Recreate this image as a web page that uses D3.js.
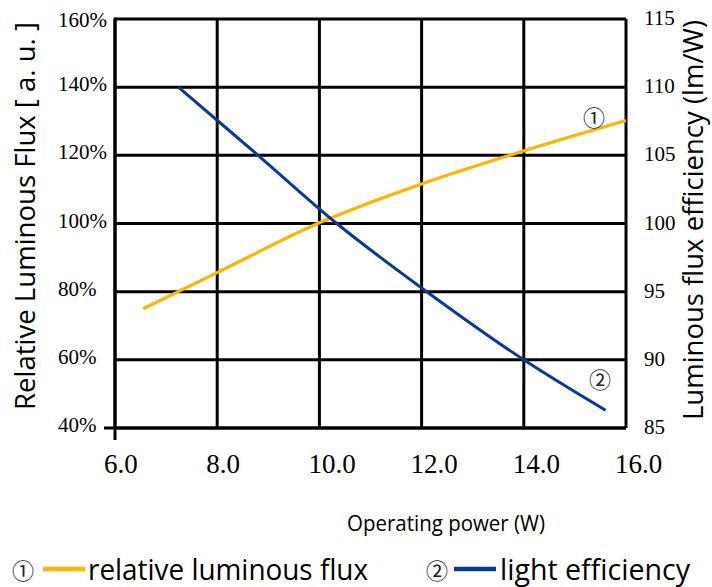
<!DOCTYPE html>
<html><head><meta charset="utf-8">
<script src="https://cdn.jsdelivr.net/npm/d3@7"></script>
<style>body{margin:0;background:#fff}svg{display:block}</style>
</head><body>
<svg id="c" width="712" height="587"></svg>
<script>
// ---- data ----
const xTicks = [6, 8, 10, 12, 14, 16];
const xTickLabels = ["6.0", "8.0", "10.0", "12.0", "14.0", "16.0"];
const leftTicks = [40, 60, 80, 100, 120, 140, 160];
const leftTickLabels = ["40%", "60%", "80%", "100%", "120%", "140%", "160%"];
const rightTicks = [85, 90, 95, 100, 105, 110, 115];
const rightTickLabels = ["85", "90", "95", "100", "105", "110", "115"];
// relative luminous flux (%) vs operating power (W)
const fluxPower = [6.55, 8, 10, 12, 14, 16];
const fluxValues = [75, 85.6, 100.2, 111.6, 121.3, 130.2];
// light efficiency (lm/W) vs operating power (W)
const effPower = [7.24, 8.8, 10.34, 12.1, 14, 15.6];
const effValues = [110, 105, 100, 95, 90, 86.3];
const seriesNames = ["relative luminous flux", "light efficiency"];
const seriesMarks = ["\u2460", "\u2461"];
const colors = ["#FFB400", "#0A3A94"];

// ---- chart ----
const SERIF = '"Liberation Serif"';
const SANS = '"Open Sans"';
const CJK = '"Noto Sans CJK JP"';
const svg = d3.select("#c");
const x = d3.scaleLinear().domain([6, 16]).range([115, 626]);
const yL = d3.scaleLinear().domain([40, 160]).range([428, 19]);
const yR = d3.scaleLinear().domain([85, 115]).range([428, 19]);

// grid
const g = svg.append("g").attr("stroke", "#000").attr("stroke-width", 3);
g.selectAll("line.h").data(leftTicks).join("line")
  .attr("x1", x(6)).attr("x2", x(16))
  .attr("y1", d => yL(d)).attr("y2", d => yL(d));
g.selectAll("line.v").data(xTicks).join("line")
  .attr("x1", d => x(d)).attr("x2", d => x(d))
  .attr("y1", yL(160)).attr("y2", yL(40));
// axes extended
g.append("line").attr("x1", x(6) - 11).attr("x2", x(16)).attr("y1", yL(40)).attr("y2", yL(40));
g.append("line").attr("x1", x(6)).attr("x2", x(6)).attr("y1", yL(160) - 1.5).attr("y2", yL(40) + 12);

// tick labels
svg.append("g").selectAll("text").data(xTicks).join("text")
  .attr("x", d => x(d) - 11).attr("y", 473)
  .style("font-family", SERIF).style("font-size", "27px")
  .text((d, i) => xTickLabels[i]);
svg.append("g").selectAll("text").data(leftTicks).join("text")
  .attr("x", 58).attr("y", d => yL(d) + 4 + (d === 160 ? 4 : 0))
  .style("font-family", SERIF).style("font-size", "21px")
  .text((d, i) => leftTickLabels[i]);
svg.append("g").selectAll("text").data(rightTicks).join("text")
  .attr("x", 644).attr("y", d => yR(d) + 6)
  .style("font-family", SERIF).style("font-size", "21px")
  .text((d, i) => rightTickLabels[i]);

// lines
const lineL = d3.line().x((d, i) => x(fluxPower[i])).y(d => yL(d)).curve(d3.curveCatmullRom);
const lineR = d3.line().x((d, i) => x(effPower[i])).y(d => yR(d)).curve(d3.curveCatmullRom);
svg.append("path").attr("d", lineL(fluxValues)).attr("fill", "none")
  .attr("stroke", colors[0]).attr("stroke-width", 3.2);
svg.append("path").attr("d", lineR(effValues)).attr("fill", "none")
  .attr("stroke", colors[1]).attr("stroke-width", 3);

// circled markers in plot
[[594, 116], [600, 378]].forEach((p, i) => {
  svg.append("text").attr("x", p[0]).attr("y", p[1])
    .attr("text-anchor", "middle").attr("dominant-baseline", "central")
    .style("font-family", CJK).style("font-size", "22px").attr("fill", "#222").text(seriesMarks[i]);
});

// axis titles
svg.append("text").attr("transform", "translate(35,216) rotate(-90)")
  .attr("text-anchor", "middle").style("font-family", SANS).style("font-size", "28px")
  .attr("textLength", 388).attr("lengthAdjust", "spacingAndGlyphs")
  .text("Relative Luminous Flux [ a. u. ]");
svg.append("text").attr("transform", "translate(703,220) rotate(-90)")
  .attr("text-anchor", "middle").style("font-family", SANS).style("font-size", "27px")
  .attr("textLength", 400).attr("lengthAdjust", "spacingAndGlyphs")
  .text("Luminous flux efficiency (lm/W)");
svg.append("text").attr("x", 347).attr("y", 531)
  .style("font-family", SANS).style("font-size", "21px")
  .attr("textLength", 198).attr("lengthAdjust", "spacingAndGlyphs")
  .text("Operating power (W)");

// legend
const leg = [
  {cx: 23, lx1: 43, lx2: 85, tx: 88, tw: 280},
  {cx: 437, lx1: 454, lx2: 496, tx: 500, tw: 190}
];
leg.forEach((p, i) => {
  svg.append("text").attr("x", p.cx).attr("y", 569).attr("text-anchor", "middle")
    .attr("dominant-baseline", "central").style("font-family", CJK).style("font-size", "22px")
    .attr("fill", "#222").text(seriesMarks[i]);
  svg.append("line").attr("x1", p.lx1).attr("x2", p.lx2).attr("y1", 569).attr("y2", 569)
    .attr("stroke", colors[i]).attr("stroke-width", 4.5);
  svg.append("text").attr("x", p.tx).attr("y", 580)
    .style("font-family", SANS).style("font-size", "29px")
    .attr("textLength", p.tw).attr("lengthAdjust", "spacingAndGlyphs")
    .text(seriesNames[i]);
});
</script>
</body></html>
